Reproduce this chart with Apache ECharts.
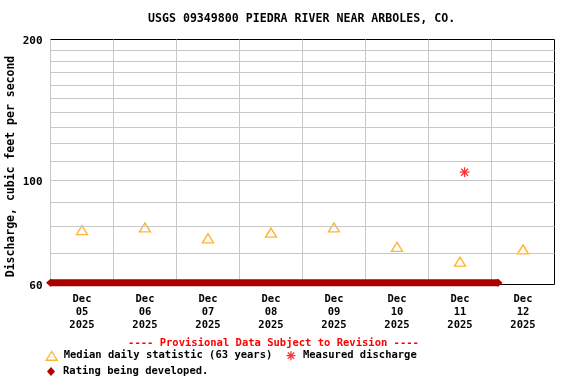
<!DOCTYPE html>
<html><head><meta charset="utf-8">
<script src="https://cdn.jsdelivr.net/npm/echarts@6/dist/echarts.min.js"></script>
<style>html,body{margin:0;padding:0;background:#fff}#c{width:576px;height:384px}</style>
</head><body><div id="c"></div>
<script>
const titleText = 'USGS 09349800 PIEDRA RIVER NEAR ARBOLES, CO.';
const yAxisName = 'Discharge, cubic feet per second';
const provisionalText = '---- Provisional Data Subject to Revision ----';
const dayLabels = ['Dec\n05\n2025','Dec\n06\n2025','Dec\n07\n2025','Dec\n08\n2025','Dec\n09\n2025','Dec\n10\n2025','Dec\n11\n2025','Dec\n12\n2025'];
const medianName = 'Median daily statistic (63 years)';
const medianTimes = ['2025-12-05 12:00','2025-12-06 12:00','2025-12-07 12:00','2025-12-08 12:00','2025-12-09 12:00','2025-12-10 12:00','2025-12-11 12:00','2025-12-12 12:00'];
const medianValues = [78.4, 79.4, 75.3, 77.4, 79.4, 72.2, 67.1, 71.3];
const measuredName = 'Measured discharge';
const measuredTimes = ['2025-12-11 13:45'];
const measuredValues = [104.2];
const ratingName = 'Rating being developed.';
const ratingTimes = ['2025-12-05 00:00', '2025-12-12 02:30'];
const ratingValues = [60.5, 60.5];
const yLabelValues = [60, 100, 200];
const yGridValues = [70, 80, 90, 100, 110, 120, 130, 140, 150, 160, 170, 180, 190];
const xMin = '2025-12-05 00:00', xMax = '2025-12-13 00:00';

const FONT = '"DejaVu Sans Mono", "Liberation Mono", monospace';
function t(s) {
  const [d, h] = s.split(' ');
  const [Y, M, D] = d.split('-').map(Number);
  const [hh, mm] = h.split(':').map(Number);
  return new Date(Y, M - 1, D, hh, mm).getTime();
}
const zip = (ts, vs) => ts.map((s, i) => [t(s), vs[i]]);
const DAY = 86400000;
const ORANGE = '#ffa200';
const asterisk = 'path://M0,-6L0,6M-6,0L6,0M-4.2,-4.2L4.2,4.2M-4.2,4.2L4.2,-4.2';
const triIcon = 'path://M0,0L0,0M14,10L14,10M7,0.8L12.5,9.5L1.5,9.5Z';
const astIcon = 'path://M0,0L0,0M14,10L14,10M7,0.5L7,9.5M2.5,5L11.5,5M3.8,1.8L10.2,8.2M3.8,8.2L10.2,1.8';
const diaIcon = 'path://M0,0L0,0M14,10L14,10M7,0.5L11,5L7,9.5L3,5Z';

const chart = echarts.init(document.getElementById('c'), null, {renderer: 'canvas'});
chart.setOption({
  animation: false,
  backgroundColor: '#fff',
  title: {
    text: titleText, left: 148, top: 13, padding: 0,
    textStyle: {fontFamily: FONT, fontWeight: 'bold', fontSize: 11.6, color: '#000'}
  },
  grid: {left: 50.5, right: 21.5, top: 39.5, bottom: 99.5, show: true, borderColor: '#000', borderWidth: 1,
         backgroundColor: '#fff', containLabel: false, outerBoundsMode: 'none'},
  xAxis: [{
    type: 'time', min: t(xMin), max: t(xMax), minInterval: DAY, maxInterval: DAY, splitNumber: 8,
    axisLine: {show: false}, axisTick: {show: false}, axisLabel: {show: false},
    splitLine: {show: true, showMinLine: false, showMaxLine: false, lineStyle: {color: '#c8c8c8', width: 1}}
  }, {
    type: 'category', data: dayLabels, boundaryGap: true, position: 'bottom',
    axisLine: {show: false}, axisTick: {show: false}, splitLine: {show: false},
    axisLabel: {margin: 8, fontFamily: FONT, fontWeight: 'bold', fontSize: 10.5, lineHeight: 13, color: '#000'}
  }],
  yAxis: {
    type: 'log', logBase: 10, min: 60, max: 200,
    axisLine: {show: false}, axisTick: {show: false}, axisLabel: {show: false}, splitLine: {show: false},
    name: yAxisName, nameLocation: 'middle', nameGap: 33,
    nameTextStyle: {fontFamily: FONT, fontWeight: 'bold', fontSize: 11.5, color: '#000', padding: [0, 9, 0, 0]}
  },
  legend: [{
    data: [
      {name: medianName, icon: triIcon, itemStyle: {borderWidth: 1.4, borderColor: ORANGE, color: 'rgba(0,0,0,0)'}},
      {name: measuredName, icon: astIcon, itemStyle: {borderWidth: 1.3, borderColor: '#ff0000', color: 'rgba(0,0,0,0)'}}
    ],
    left: 44, top: 350, padding: 0, itemWidth: 14, itemHeight: 10, itemGap: 11,
    textStyle: {fontFamily: FONT, fontWeight: 'bold', fontSize: 10.5, color: '#000'}
  }, {
    data: [{name: ratingName, icon: diaIcon}],
    left: 44, top: 366, padding: 0, itemWidth: 14, itemHeight: 10,
    textStyle: {fontFamily: FONT, fontWeight: 'bold', fontSize: 10.5, color: '#000'}
  }],
  graphic: [{
    type: 'text', x: 273.5, y: 343,
    style: {text: provisionalText, fill: '#ff0000', font: 'bold 10.5px ' + FONT, textAlign: 'center', textVerticalAlign: 'middle'}
  }],
  series: [{
    name: 'grid', type: 'line', data: [], z: 1, silent: true,
    markLine: {
      silent: true, symbol: 'none', animation: false,
      data: yGridValues.map(v => ({yAxis: v, label: {show: false}, lineStyle: {color: '#c8c8c8', width: 1, type: 'solid'}}))
        .concat(yLabelValues.map(v => ({yAxis: v, lineStyle: {color: 'rgba(0,0,0,0)', width: 1, type: 'solid'}, label: {show: true, position: 'start', distance: 8, offset: [0, 2], formatter: String(v), color: '#000', fontFamily: FONT, fontWeight: 'bold', fontSize: 11}})))
    }
  }, {
    name: ratingName, type: 'line', data: zip(ratingTimes, ratingValues), z: 3, clip: false,
    symbol: 'diamond', symbolSize: [9, 8], showSymbol: true,
    lineStyle: {color: '#aa0000', width: 7}, itemStyle: {color: '#aa0000'}
  }, {
    name: medianName, type: 'scatter', data: zip(medianTimes, medianValues), z: 4,
    symbol: 'triangle', symbolSize: [11, 9],
    itemStyle: {color: 'rgba(0,0,0,0)', borderColor: ORANGE, borderWidth: 1.4}
  }, {
    name: measuredName, type: 'scatter', data: zip(measuredTimes, measuredValues), z: 4,
    symbol: asterisk, symbolSize: 10,
    itemStyle: {color: '#ff0000', borderColor: '#ff0000', borderWidth: 1.3}
  }]
});
</script></body></html>
